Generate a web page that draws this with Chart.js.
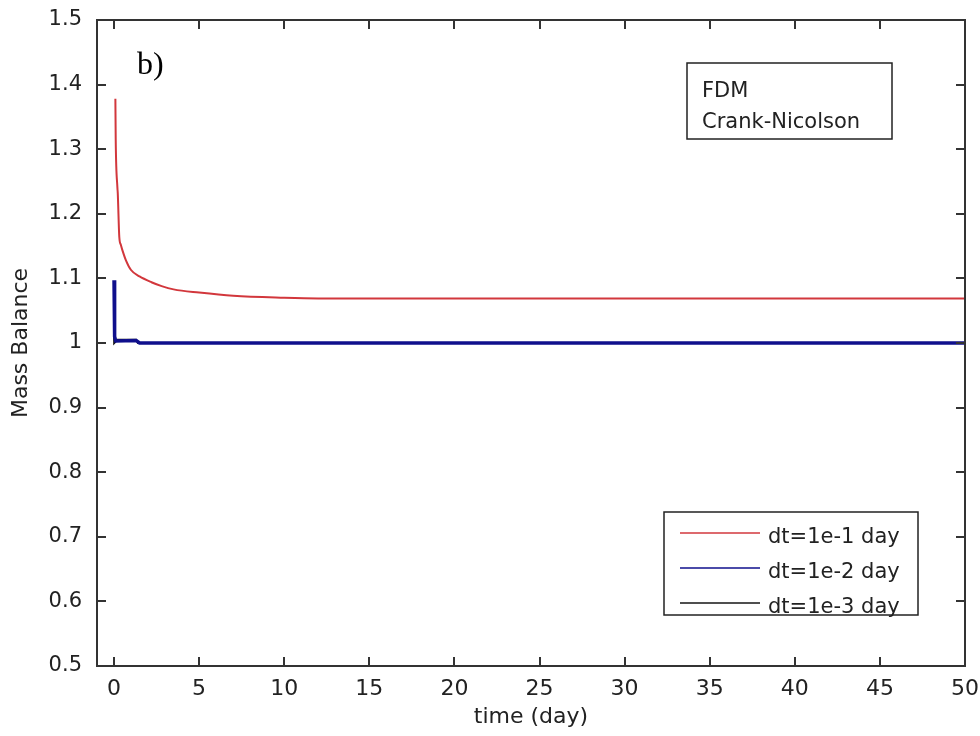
<!DOCTYPE html>
<html>
<head>
<meta charset="utf-8">
<script src="https://cdn.jsdelivr.net/npm/chart.js@4.4.1/dist/chart.umd.min.js"></script>
<style>
  html, body { margin: 0; padding: 0; background: #fff; }
  #grafico { display: block; }
</style>
</head>
<body>
<canvas id="grafico" width="980" height="736"></canvas>
<script>
// dt = 1e-1 day
var tempoVermelho = [0.08, 0.1, 0.2, 0.22, 0.31, 0.4, 0.5, 0.7, 1, 1.5, 2.2, 2.8, 3.5, 5, 7, 10, 12, 20, 30, 40, 50];
var massaVermelho = [1.378, 1.315, 1.24, 1.232, 1.164, 1.152, 1.143, 1.128, 1.113, 1.103, 1.094, 1.088, 1.083, 1.078, 1.073, 1.070, 1.069, 1.069, 1.069, 1.069, 1.069];
// dt = 1e-2 day
var tempoAzul = [0, 0.02, 0.05, 0.1, 1.3, 1.5, 10, 20, 30, 40, 50];
var massaAzul = [1.097, 1.02, 1.01, 1.003, 1.004, 1.0, 1.0, 1.0, 1.0, 1.0, 1.0];
// dt = 1e-3 day
var tempoPreto = [0, 0.01, 0.2, 1.3, 1.4, 10, 20, 30, 40, 50];
var massaPreto = [1.025, 1.0, 1.005, 1.005, 1.0, 1.0, 1.0, 1.0, 1.0, 1.0];

var rotulosSeries = ['dt=1e-1 day', 'dt=1e-2 day', 'dt=1e-3 day'];
var ticksX = [0, 5, 10, 15, 20, 25, 30, 35, 40, 45, 50];
var ticksY = [0.5, 0.6, 0.7, 0.8, 0.9, 1.0, 1.1, 1.2, 1.3, 1.4, 1.5];

var FONTE = '"DejaVu Sans", sans-serif';

function pontos(tempos, valores) {
    return tempos.map(function (t, i) { return { x: t, y: valores[i] }; });
}

function semPadding(scale) {
    scale.paddingLeft = 0;
    scale.paddingRight = 0;
    scale.paddingTop = 0;
    scale.paddingBottom = 0;
}

var pluginMoldura = {
    id: 'moldura',
    afterDraw: function (chart) {
        var ctx = chart.ctx;
        var area = chart.chartArea;
        var sx = chart.scales.x;
        var sy = chart.scales.y;
        ctx.save();
        ctx.strokeStyle = '#333';
        ctx.lineWidth = 2;
        ctx.strokeRect(area.left, area.top, area.right - area.left, area.bottom - area.top);

        // ticks voltados para dentro
        ctx.beginPath();
        sx.ticks.forEach(function (t) {
            var px = Math.round(sx.getPixelForValue(t.value));
            ctx.moveTo(px, area.bottom); ctx.lineTo(px, area.bottom - 9);
            ctx.moveTo(px, area.top); ctx.lineTo(px, area.top + 9);
        });
        sy.ticks.forEach(function (t) {
            var py = Math.round(sy.getPixelForValue(t.value));
            ctx.moveTo(area.left, py); ctx.lineTo(area.left + 9, py);
            ctx.moveTo(area.right, py); ctx.lineTo(area.right - 9, py);
        });
        ctx.stroke();

        // caixa de anotação
        ctx.lineWidth = 1.5;
        ctx.strokeStyle = '#222';
        ctx.fillStyle = '#fff';
        ctx.fillRect(687, 63, 205, 76);
        ctx.strokeRect(687, 63, 205, 76);
        ctx.fillStyle = '#222';
        ctx.font = '21px ' + FONTE;
        ctx.textBaseline = 'alphabetic';
        ctx.textAlign = 'left';
        ctx.fillText('FDM', 702, 97);
        ctx.fillText('Crank-Nicolson', 702, 128);

        // rótulo b)
        ctx.font = '32px "Liberation Serif", serif';
        ctx.fillStyle = '#000';
        ctx.fillText('b)', 137, 74);

        // legenda
        ctx.fillStyle = '#fff';
        ctx.fillRect(664, 512, 254, 103);
        ctx.strokeStyle = '#222';
        ctx.lineWidth = 1.5;
        ctx.strokeRect(664, 512, 254, 103);
        ctx.font = '21px ' + FONTE;
        chart.data.datasets.forEach(function (ds, i) {
            var y = 533 + i * 35;
            ctx.strokeStyle = ds.borderColor;
            ctx.lineWidth = 1.5;
            ctx.beginPath();
            ctx.moveTo(680, y); ctx.lineTo(760, y);
            ctx.stroke();
            ctx.fillStyle = '#222';
            ctx.fillText(ds.label, 768, y + 10);
        });
        ctx.restore();
    }
};

var contexto = document.getElementById('grafico').getContext('2d');

new Chart(contexto, {
    type: 'line',
    data: {
        datasets: [{
            label: rotulosSeries[0],
            data: pontos(tempoVermelho, massaVermelho),
            borderColor: 'rgb(210, 55, 60)',
            borderWidth: 2,
            pointRadius: 0,
            cubicInterpolationMode: 'monotone'
        }, {
            label: rotulosSeries[1],
            data: pontos(tempoAzul, massaAzul),
            borderColor: 'rgb(15, 15, 140)',
            borderWidth: 3.5,
            pointRadius: 0,
            tension: 0
        }, {
            label: rotulosSeries[2],
            data: pontos(tempoPreto, massaPreto),
            borderColor: 'rgb(20, 20, 20)',
            borderWidth: 2,
            pointRadius: 0,
            tension: 0
        }]
    },
    options: {
        responsive: false,
        animation: false,
        layout: { padding: { left: 0, top: 20, right: 15, bottom: 0 } },
        plugins: {
            legend: { display: false },
            tooltip: { enabled: false }
        },
        scales: {
            x: {
                type: 'linear',
                min: -1,
                max: 50,
                afterBuildTicks: function (scale) {
                    scale.ticks = ticksX.map(function (v) { return { value: v }; });
                },
                afterFit: function (scale) { scale.height = 70; semPadding(scale); },
                grid: { display: false },
                border: { display: false },
                ticks: {
                    color: '#222',
                    font: { size: 22, family: FONTE },
                    padding: 2,
                    maxRotation: 0
                },
                title: {
                    display: true,
                    text: 'time (day)',
                    color: '#222',
                    font: { size: 22, family: FONTE },
                    padding: { top: 0, bottom: 6 }
                }
            },
            y: {
                type: 'linear',
                min: 0.5,
                max: 1.5,
                afterBuildTicks: function (scale) {
                    scale.ticks = ticksY.map(function (v) { return { value: v }; });
                },
                afterFit: function (scale) { scale.width = 97; semPadding(scale); },
                grid: { display: false },
                border: { display: false },
                ticks: {
                    color: '#222',
                    font: { size: 21, family: FONTE },
                    padding: 7,
                    callback: function (v) { return String(Number(v.toFixed(1))); }
                },
                title: {
                    display: true,
                    text: 'Mass Balance',
                    color: '#222',
                    font: { size: 22, family: FONTE },
                    padding: { top: 8, bottom: 0 }
                }
            }
        }
    },
    plugins: [pluginMoldura]
});
</script>
</body>
</html>
